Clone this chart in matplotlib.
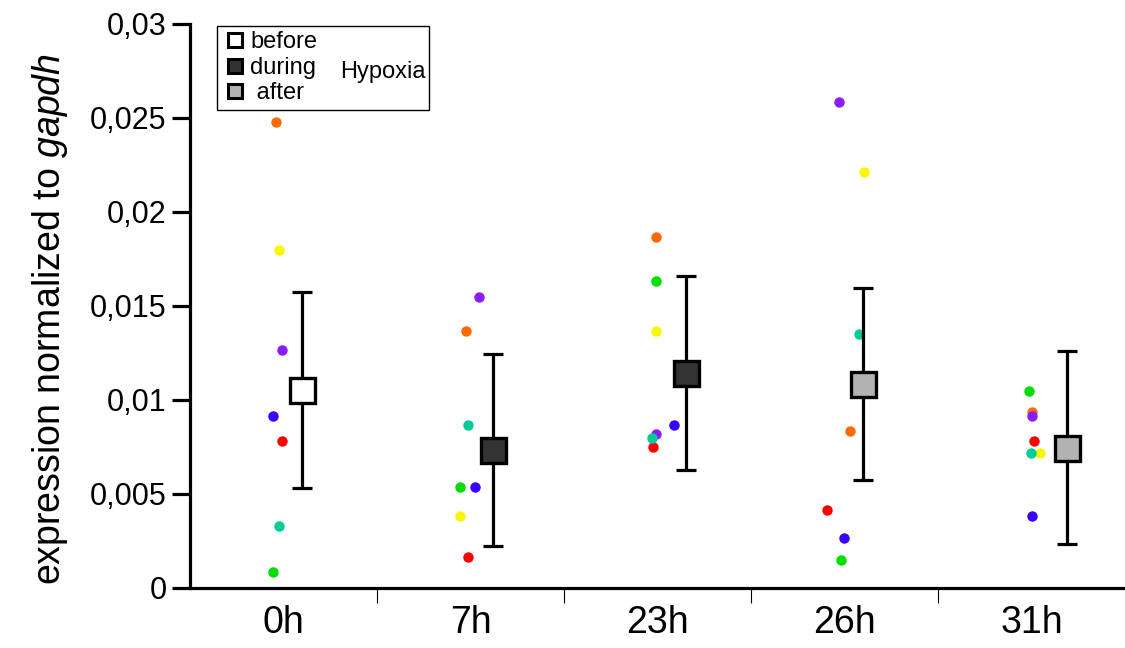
import matplotlib
matplotlib.use("Agg")
import matplotlib.pyplot as plt
from matplotlib.lines import Line2D
from matplotlib.patches import Rectangle

plt.rcParams["font.family"] = ["Liberation Sans", "DejaVu Sans"]
plt.rcParams["mathtext.fontset"] = "custom"
plt.rcParams["mathtext.rm"] = "Liberation Sans"
plt.rcParams["mathtext.it"] = "Liberation Sans:italic"

# data
times = ["0h", "7h", "23h", "26h", "31h"]
fish = ["orange", "yellow", "purple", "blue", "red", "teal", "green"]
fish_colors = ["#ff6a00", "#f7f700", "#8a1cff", "#3a00ff", "#ff0000", "#00cc99", "#00dd00"]

# individual values per time point, in fish order
values = [
    [0.0248, 0.0180, 0.01266, 0.00915, 0.00782, 0.0033, 0.00085],
    [0.01367, 0.00383, 0.01548, 0.00537, 0.00165, 0.00867, 0.00537],
    [0.01867, 0.01367, 0.00819, 0.00867, 0.0075, 0.00798, 0.01633],
    [0.00835, 0.02213, 0.02585, 0.00266, 0.00415, 0.01351, 0.00149],
    [0.00936, 0.00718, 0.00915, 0.00383, 0.00782, 0.00718, 0.01048],
]
# horizontal scatter of the dots as drawn (category units)
jitter = [
    [-0.043, -0.027, -0.011, -0.059, -0.011, -0.027, -0.059],
    [-0.023, -0.055, 0.047, 0.025, -0.012, -0.012, -0.055],
    [-0.008, -0.008, -0.008, 0.088, -0.024, -0.029, -0.008],
    [0.028, 0.103, -0.031, -0.004, -0.095, 0.076, -0.020],
    [0.0, 0.043, 0.0, 0.0, 0.011, -0.005, -0.016],
]

means = [0.01053, 0.00734, 0.01144, 0.01085, 0.00745]
errors = [0.00521, 0.00513, 0.00516, 0.00513, 0.00513]
mean_offset = [0.10, 0.12, 0.15, 0.10, 0.19]
phase = ["before", "during", "during", "after", "after"]
phase_colors = {"before": "white", "during": "#333333", "after": "#b3b3b3"}

yticks = [0, 0.005, 0.01, 0.015, 0.02, 0.025, 0.03]
yticklabels = ["0", "0,005", "0,01", "0,015", "0,02", "0,025", "0,03"]

fig = plt.figure(figsize=(11.25, 6.48), dpi=100)
ax = fig.add_axes([0.169, 0.0926, 0.831, 0.8704])

for i in range(len(times)):
    for j in range(len(fish)):
        ax.plot(i + jitter[i][j], values[i][j], "o", ms=7.5, mew=0,
                color=fish_colors[j], zorder=2)
    ax.errorbar(i + mean_offset[i], means[i], yerr=errors[i], fmt="none",
                ecolor="black", elinewidth=2.3, capsize=7, capthick=2.3, zorder=3)
    ax.plot(i + mean_offset[i], means[i], "s", ms=18, mew=2.4, mec="black",
            mfc=phase_colors[phase[i]], zorder=4,
            solid_joinstyle="round")

ax.set_xlim(-0.5, 4.5)
ax.set_ylim(0, 0.03)
ax.set_xticks(range(len(times)))
ax.set_xticklabels(times, fontsize=27)
ax.set_xticks([0.5, 1.5, 2.5, 3.5], minor=True)
ax.tick_params(axis="x", which="major", length=0, pad=12)
ax.tick_params(axis="x", which="minor", length=11, width=0.8, direction="out")
ax.set_yticks(yticks)
ax.set_yticklabels(yticklabels, fontsize=22)
ax.tick_params(axis="y", length=13, width=2.3, pad=4)

for s in ["top", "right"]:
    ax.spines[s].set_visible(False)
for s in ["left", "bottom"]:
    ax.spines[s].set_linewidth(2.3)
ax.spines["left"].set_bounds(0, 0.03)

ax.set_ylabel(r"expression normalized to $\it{gapdh}$", fontsize=27, labelpad=14)
ax.yaxis.label.set_y(0.477)

# legend box
ax.add_patch(Rectangle((0.029, 0.848), 0.227, 0.148, transform=ax.transAxes,
                       fill=False, edgecolor="black", lw=1.0, zorder=5,
                       clip_on=False))
handles = [Line2D([], [], ls="none", marker="s", ms=10.5, mew=2.2, mec="black",
                  mfc=phase_colors[p]) for p in ["before", "during", "after"]]
ax.legend(handles, ["before", "during", " after"], loc="upper left",
          bbox_to_anchor=(0.024, 1.012), frameon=False, fontsize=17,
          handlelength=0.7, handletextpad=0.3, labelspacing=0.15,
          borderaxespad=0.2)
ax.text(0.160, 0.915, "Hypoxia", transform=ax.transAxes, fontsize=17,
        va="center", ha="left")

fig.savefig("out.png", dpi=100)
